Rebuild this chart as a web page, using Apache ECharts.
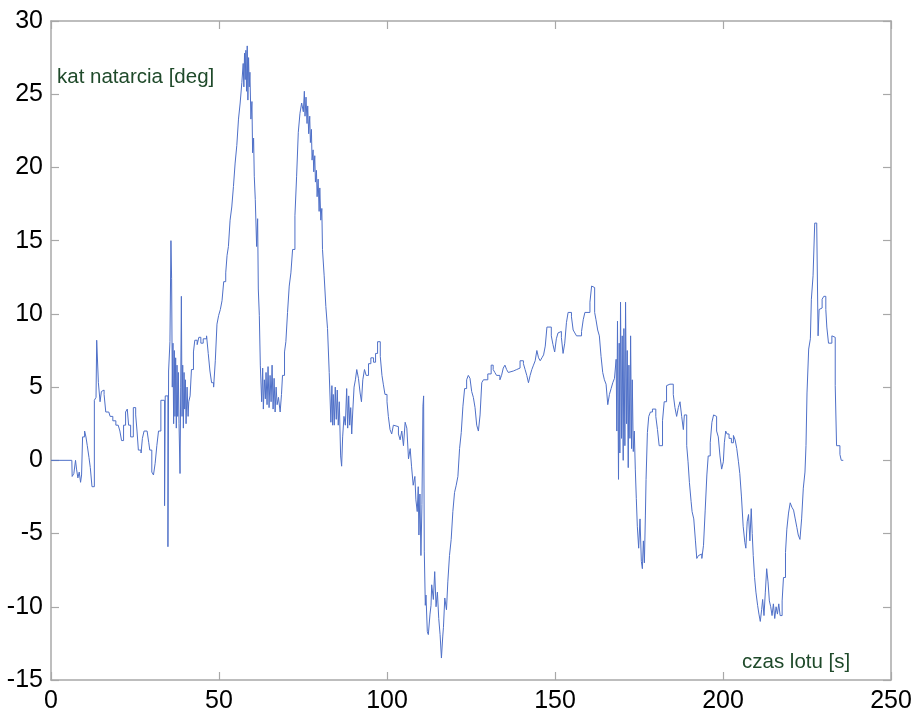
<!DOCTYPE html>
<html>
<head>
<meta charset="utf-8">
<script src="https://cdn.jsdelivr.net/npm/echarts@6/dist/echarts.min.js"></script>
<style>html,body{margin:0;padding:0;background:#fff;}#chart{width:917px;height:714px;}</style>
</head>
<body>
<div id="chart"></div>
<script>
// time [s]
const times = [
0,6.2,6.3,6.8,7.3,7.6,8.0,8.4,8.8,9.1,9.4,10.0,10.4,10.8,11.3,11.7,12.2,12.9,13.4,13.6,14.1,14.6,15.0,15.4,15.8,16.3,17.2,17.6,18.4,19.3,20.0,20.5,21.0,21.6,22.2,22.7,23.1,23.7,24.5,25.2,25.6,26.0,26.8,27.2,27.7,28.6,29.1,29.4,30.0,30.5,31.0,31.5,32.0,32.7,33.8,34.0,34.8,35.0,35.4,35.7,35.9,36.1,36.3,36.5,36.7,36.9,37.1,37.3,37.5,37.7,37.9,38.1,38.4,38.6,38.8,39.0,39.2,39.4,39.6,39.8,40.0,40.2,40.5,40.8,41.0,41.4,41.8,42.4,42.8,43.5,44.0,44.6,45.3,46.3,46.8,47.3,47.8,48.4,48.9,49.4,49.9,50.4,50.9,51.4,52.0,52.4,52.8,53.3,53.8,54.3,54.8,55.3,55.8,56.3,56.8,57.2,57.4,57.6,57.8,58.0,58.2,58.4,58.6,58.8,59.0,59.2,59.5,59.8,60.0,60.3,60.5,60.8,61.2,61.5,61.7,62.0,62.3,62.7,63.0,63.2,63.5,63.8,64.0,64.3,64.6,64.9,65.2,65.5,65.8,66.1,66.4,66.7,67.0,67.3,67.7,68.2,68.6,68.9,69.5,69.9,70.4,70.9,71.4,71.9,72.6,73.1,73.6,74.1,74.6,75.1,75.4,75.6,75.9,76.2,76.4,76.7,77.0,77.2,77.5,77.7,78.0,78.2,78.5,78.7,79.0,79.2,79.5,79.8,80.0,80.3,80.6,80.8,81.3,81.8,82.3,82.8,83.3,83.6,83.8,84.0,84.3,84.6,84.9,85.2,85.5,85.8,86.2,86.5,86.8,87.2,87.6,88.0,88.3,88.6,88.9,89.2,89.5,89.8,90.2,90.6,91.0,91.5,92.0,92.4,92.8,93.3,93.8,94.5,95.2,96.0,96.6,97.2,98.0,98.5,98.9,99.4,100.0,100.4,100.9,101.4,101.9,102.4,103.4,103.9,104.4,104.9,105.4,105.9,106.4,106.9,107.3,107.8,108.3,108.6,109.0,109.3,109.5,109.8,110.1,110.4,110.7,110.9,111.1,111.4,111.6,112.0,112.3,112.8,113.1,113.3,113.8,114.2,114.6,115.0,115.4,115.8,116.2,116.6,116.8,117.2,117.7,118.1,118.6,119.1,119.6,120.1,120.6,121.1,121.6,122.1,122.6,123.1,123.7,124.2,124.7,125.2,125.7,126.2,126.7,127.2,127.7,128.2,128.7,129.2,130.0,131.0,131.6,132.1,132.6,133.6,134.1,134.6,135.1,135.6,136.1,136.6,137.6,138.6,139.6,140.6,141.1,141.6,142.1,142.6,143.1,143.6,144.1,144.6,145.1,145.6,146.1,146.6,147.1,147.6,148.1,148.9,149.4,149.9,150.4,150.9,151.4,151.9,152.4,152.9,153.4,153.9,154.4,154.9,155.4,155.9,156.4,156.9,157.9,158.4,158.9,159.4,160.4,160.9,161.2,161.8,162.2,162.7,163.2,163.7,164.2,164.7,165.2,165.7,166.2,166.7,167.2,167.7,168.2,168.4,168.6,168.9,169.1,169.3,169.5,169.8,170.0,170.3,170.5,170.8,171.0,171.3,171.5,171.8,172.0,172.3,172.5,172.8,173.0,173.3,173.6,173.9,174.2,174.5,174.9,175.3,175.7,176.0,176.3,176.6,176.9,177.1,177.5,177.9,178.4,179.0,180.0,180.5,181.0,182.0,182.5,183.2,183.7,184.2,185.2,185.7,186.2,186.7,187.2,187.7,188.2,188.5,188.8,189.2,189.6,190.0,190.5,190.8,191.3,191.8,192.2,192.7,193.2,193.7,194.2,194.7,195.2,195.6,196.2,196.7,197.2,197.6,198.1,198.6,199.1,199.6,200.1,200.4,200.8,201.2,201.8,202.5,203.1,203.6,204.1,204.6,205.0,205.5,206.0,206.5,206.8,207.2,207.6,208.0,208.4,208.7,209.0,209.4,209.8,210.3,210.7,211.1,211.5,211.8,212.2,212.6,213.0,213.4,213.8,214.2,214.6,215.0,215.4,215.8,216.2,216.6,217.0,217.6,218.0,218.6,219.0,219.5,220.0,220.5,221.0,221.5,222.0,222.4,222.9,223.4,223.9,224.4,224.7,225.0,225.5,226.0,226.3,226.8,227.3,227.9,228.3,228.6,228.9,229.5,230.0,230.6,230.9,231.4,231.9,232.4,232.8,233.4,233.8,234.3,234.8,235.2,235.8,237.3
];
// angle of attack [deg]
const angles = [
0,0,-1.1,-0.9,0,-0.6,-1.2,-0.8,-1.5,-1.0,1.6,2.0,1.6,1.0,0.2,-0.5,-1.8,4.1,4.3,8.2,5.3,4.0,4.7,4.8,4.5,3.3,3.3,3.0,2.7,2.4,2.3,2.0,1.35,2.4,3.3,3.5,2.4,1.6,3.6,3.1,2.0,0.7,0.5,1.5,2.0,1.9,1.2,0.7,-0.8,-1.0,-0.2,1.0,2.0,4.1,-3.1,4.4,-5.9,6.1,8.1,15.0,12.4,5,8,2.5,7.5,3,7,2.2,6.5,3,6,2.5,-0.9,5,11.2,3,6.5,2.2,6,3.5,5.5,2.5,5,3,4,4.4,6.2,7.4,8.2,7.9,8.4,8.0,8.3,8.5,7.3,6.1,5.3,5.0,6.8,9.3,9.9,10.3,10.9,12.2,12.8,14.0,14.6,16.4,17.3,18.7,20.3,21.5,23.3,24.4,25.8,27.1,25.5,27.8,26,28.0,25.2,28.3,24.6,27.5,25.5,26.5,23.3,24.5,21.0,22,19.4,17.8,14.6,16.5,11.7,9.9,6.5,4.0,6.3,3.5,5.5,4.2,6.0,3.8,6.4,3.6,5.8,4.0,6.5,3.5,5.6,3.3,5.0,3.8,4.3,3.3,4.5,5.8,7.4,8.1,10.1,11.9,12.8,14.4,16.7,19.4,22.4,23.7,24.4,23.8,25.2,23.5,24.8,23.0,24.2,22.3,23.5,21.7,22.6,20.5,21.2,19.7,20.8,19.0,19.8,18.0,19.2,17.0,18.6,16.4,17.2,14.4,12.6,10.5,9.0,6.0,2.6,5.1,2.4,4.5,2.4,5.0,2.8,4.8,2.4,4.0,0.3,-0.4,1.6,3.0,2.4,4.9,2.2,4.4,2.4,3.6,1.8,3.3,5.0,5.5,6.2,5.6,4.6,4.0,5.5,6.2,5.8,6.6,7.0,6.7,7.3,8.1,7.1,5.8,5.2,4.5,4.0,3.0,2.1,1.8,2.4,2.3,1.8,1.4,2.0,1.0,2.6,2.2,0.1,0.8,-0.4,-1.7,-1.1,-2.7,-3.5,-1.8,-5.1,-2.3,-6.5,-3.0,3.7,4.4,-6.2,-9.9,-9.2,-11.7,-11.9,-10.5,-9.9,-8.5,-9.5,-7.6,-10.0,-9.0,-10.8,-11.9,-13.5,-12.0,-11.4,-9.4,-10.2,-8.3,-6.5,-5.4,-3.5,-2.2,-1.7,-1.1,0.8,1.9,3.7,4.9,5.5,5.8,5.6,4.7,4.3,3.6,2.4,2.0,3.1,5.3,5.5,5.5,5.9,6.5,6.2,6.0,5.8,5.5,5.8,6.3,6.5,6.2,6.0,6.1,6.2,6.3,6.8,6.6,6.2,5.8,5.3,5.8,6.2,6.5,6.8,7.5,7.0,6.8,7.0,7.2,7.8,9.1,9.1,8.5,7.9,7.4,8.3,8.7,8.8,8.4,7.3,8.0,9.4,10.1,10.1,9.8,8.9,8.7,8.5,8.5,8.8,9.6,10.1,10.1,10.8,11.9,11.8,10.1,9.6,8.9,8.5,7.1,6.0,5.5,5.2,3.8,4.5,4.9,5.3,5.6,6.9,2.0,9.5,-1.3,8.0,0.5,10.8,1.5,8.5,0.0,9.0,1.0,10.8,2.5,7.5,-0.5,6.5,1.5,8.5,0.8,5.5,0.6,2.0,-0.6,-2.6,-4.5,-6.0,-4.0,-6.9,-7.4,-5.5,-7.0,-3.8,-1.3,1.9,3.0,3.3,3.5,3.0,2.1,1.0,2.7,4.0,5.1,5.2,5.2,4.5,3.6,3.0,3.6,4.0,3.0,2.1,3.1,3.1,1.0,-0.1,-1.5,-2.8,-3.5,-4.0,-5.5,-6.7,-6.5,-6.4,-6.7,-5.8,-3.4,-1.0,0.3,1.2,2.6,3.1,3.0,2.0,1.6,0.3,-0.6,-0.1,1.2,2.0,1.8,1.5,1.2,1.7,1.4,0.8,-0.1,-0.9,-2.5,-4.5,-5.6,-6.0,-4.2,-3.7,-5.5,-3.3,-5.0,-6.5,-8.0,-9.0,-9.9,-10.5,-11.0,-10.2,-9.5,-10.6,-9.0,-7.4,-8.3,-9.6,-10.0,-10.6,-9.8,-10.8,-10.0,-10.5,-9.8,-10.6,-9.6,-8.0,-6.3,-4.7,-3.6,-2.9,-3.2,-3.4,-4.0,-4.6,-5.1,-5.4,-4.0,-1.9,-0.8,1.0,4.6,7.6,8.3,11.0,12.6,16.2,16.0,8.5,10.3,10.4,11.0,11.2,10.3,9.1,8.0,8.0,8.5,8.4,5.1,1.0,1.0,0.4,0.0,0.0
];
const xTicks = [0, 50, 100, 150, 200, 250];
const yTicks = [-15, -10, -5, 0, 5, 10, 15, 20, 25, 30];
const yLabel = 'kat natarcia [deg]';
const xLabel = 'czas lotu [s]';

// zero-order-hold (stairs) sequence built from the samples
const n = Math.min(times.length, angles.length);
const seriesData = [[times[0], angles[0]]];
for (let i = 1; i < n; i++) {
  seriesData.push([times[i], angles[i - 1]]);
  seriesData.push([times[i], angles[i]]);
}

const chart = echarts.init(document.getElementById('chart'), null, {renderer: 'canvas'});
const font = "'Liberation Sans', Arial, sans-serif";
const axisLine = {show: true, onZero: false, lineStyle: {color: '#a8a8a8', width: 1.5}};
const tick = {show: true, inside: true, length: 8, lineStyle: {color: '#a8a8a8', width: 1.2}};
chart.setOption({
  animation: false,
  backgroundColor: '#fff',
  grid: {left: 51, right: 26, top: 21, bottom: 32, containLabel: false},
  xAxis: [
    {type: 'value', min: xTicks[0], max: xTicks[xTicks.length-1], interval: 50, position: 'bottom',
     axisLine: axisLine, axisTick: tick, splitLine: {show: false},
     axisLabel: {fontSize: 25, color: '#000', fontFamily: font, margin: 9}},
    {type: 'value', min: xTicks[0], max: xTicks[xTicks.length-1], interval: 50, position: 'top',
     axisLine: axisLine, axisTick: tick, splitLine: {show: false}, axisLabel: {show: false}}
  ],
  yAxis: [
    {type: 'value', min: yTicks[0], max: yTicks[yTicks.length-1], interval: 5, position: 'left',
     axisLine: axisLine, axisTick: tick, splitLine: {show: false},
     axisLabel: {fontSize: 25, color: '#000', fontFamily: font, margin: 8}},
    {type: 'value', min: yTicks[0], max: yTicks[yTicks.length-1], interval: 5, position: 'right',
     axisLine: axisLine, axisTick: tick, splitLine: {show: false}, axisLabel: {show: false}}
  ],
  graphic: [
    {type: 'text', left: 57, top: 67, style: {text: yLabel, fill: '#1f4a2a', font: '20.5px ' + font}},
    {type: 'text', left: 742, top: 652, style: {text: xLabel, fill: '#1f4a2a', font: '20.5px ' + font}}
  ],
  series: [{
    type: 'line', xAxisIndex: 0, yAxisIndex: 0, data: seriesData,
    showSymbol: false, symbol: 'none',
    lineStyle: {color: '#4f70c8', width: 1}
  }]
});
</script>
</body>
</html>
